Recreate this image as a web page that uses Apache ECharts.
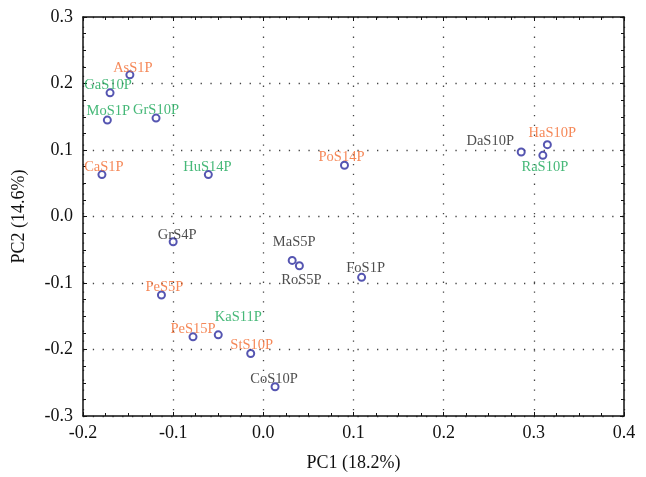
<!DOCTYPE html>
<html>
<head>
<meta charset="utf-8">
<script src="https://cdn.jsdelivr.net/npm/echarts@6/dist/echarts.min.js"></script>
<style>
html,body{margin:0;padding:0;background:#fff;}
#chart{width:646px;height:477px;}
</style>
</head>
<body>
<div id="chart"></div>
<script>
var sampleNames = ['AsS1P','GaS10P','MoS1P','GrS10P','CaS1P','HuS14P','PoS14P','DaS10P','HaS10P','RaS10P','GrS4P','MaS5P','RoS5P','FoS1P','PeS5P','KaS11P','PeS15P','StS10P','CoS10P'];
var pc1Values = [-0.148,-0.170,-0.173,-0.119,-0.179,-0.061,0.090,0.286,0.315,0.310,-0.100,0.032,0.040,0.109,-0.113,-0.050,-0.078,-0.014,0.013];
var pc2Values = [0.213,0.186,0.145,0.148,0.063,0.063,0.077,0.097,0.108,0.092,-0.038,-0.066,-0.074,-0.0915,-0.118,-0.178,-0.181,-0.206,-0.256];
var sampleGroups = ['orange','green','green','green','orange','green','orange','dark','orange','green','dark','dark','dark','dark','orange','green','orange','orange','dark'];
var xTicks = [-0.2,-0.1,0.0,0.1,0.2,0.3,0.4];
var yTicks = [-0.3,-0.2,-0.1,0.0,0.1,0.2,0.3];
var xAxisTitle = 'PC1 (18.2%)';
var yAxisTitle = 'PC2 (14.6%)';

// layout / style (not data)
var groupColors = {orange:'#f26a2e', green:'#18a656', dark:'#222222'};
var labelOffsets = {
  AsS1P:[3,-7], GaS10P:[-2,-8], MoS1P:[1,-9], GrS10P:[0,-8], CaS1P:[2,-7], HuS14P:[-1,-7],
  PoS14P:[-3,-8], DaS10P:[-31,-11], HaS10P:[5,-11], RaS10P:[2,12], GrS4P:[4,-7],
  MaS5P:[2,-18], RoS5P:[2,14], FoS1P:[4,-9], PeS5P:[3,-8], KaS11P:[20,-18],
  PeS15P:[0,-8], StS10P:[1,-8], CoS10P:[-1,-8]
};
var FONT = '"Liberation Serif", "DejaVu Serif", serif';

var points = sampleNames.map(function(n,i){
  return {
    name:n,
    value:[pc1Values[i], pc2Values[i]],
    label:{
      show:true, formatter:n, position:'inside', offset:labelOffsets[n],
      color:groupColors[sampleGroups[i]], fontFamily:FONT, fontSize:14.5
    }
  };
});

var dotted = {show:true, lineStyle:{color:'#444', width:1.3, type:[1.3,8.5]}};
var axisLine = {show:true, onZero:false, lineStyle:{color:'#111', width:1.5}};
var tick = {show:true, inside:true, length:4, lineStyle:{color:'#111', width:1}};
var minor = {show:true, splitNumber:4, length:3, lineStyle:{color:'#111', width:1}};
var tickLabel = {fontFamily:FONT, fontSize:18, color:'#111', formatter:function(v){return (Math.round(v*10)/10).toFixed(1);}};

var chart = echarts.init(document.getElementById('chart'), null, {renderer:'canvas'});
chart.setOption({
  backgroundColor:'#fff',
  animation:false,
  grid:{left:83, right:22, top:17, bottom:60, containLabel:false},
  xAxis:[{
    type:'value', min:xTicks[0], max:xTicks[xTicks.length-1], interval:0.1, position:'bottom',
    axisLine:axisLine, axisTick:tick, minorTick:minor, splitLine:dotted,
    axisLabel:Object.assign({margin:8}, tickLabel),
    name:xAxisTitle, nameLocation:'middle', nameGap:38,
    nameTextStyle:{fontFamily:FONT, fontSize:18, color:'#111'}
  },{
    type:'value', min:xTicks[0], max:xTicks[xTicks.length-1], interval:0.1, position:'top',
    axisLine:axisLine, axisTick:tick, minorTick:minor, splitLine:{show:false}, axisLabel:{show:false}
  }],
  yAxis:[{
    type:'value', min:yTicks[0], max:yTicks[yTicks.length-1], interval:0.1, position:'left',
    axisLine:axisLine, axisTick:tick, minorTick:minor, splitLine:dotted,
    axisLabel:Object.assign({margin:10}, tickLabel),
    name:yAxisTitle, nameLocation:'middle', nameGap:55, nameRotate:90,
    nameTextStyle:{fontFamily:FONT, fontSize:18, color:'#111'}
  },{
    type:'value', min:yTicks[0], max:yTicks[yTicks.length-1], interval:0.1, position:'right',
    axisLine:axisLine, axisTick:tick, minorTick:minor, splitLine:{show:false}, axisLabel:{show:false}
  }],
  series:[{
    type:'scatter', xAxisIndex:0, yAxisIndex:0,
    symbol:'emptyCircle', symbolSize:7,
    itemStyle:{color:'#2b2b9e', borderColor:'#2b2b9e', borderWidth:1.3},
    data:points,
    z:3
  }]
});
</script>
</body>
</html>
